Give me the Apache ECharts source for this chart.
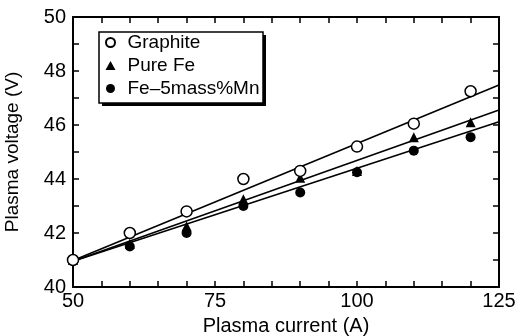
<!DOCTYPE html>
<html>
<head>
<meta charset="utf-8">
<script src="https://cdn.jsdelivr.net/npm/echarts@6/dist/echarts.min.js"></script>
<style>
  html, body { margin: 0; padding: 0; background: #fff; }
  #chart { width: 516px; height: 336px; }
</style>
</head>
<body>
<div id="chart"></div>
<script>
// Measured plasma voltage (V) against plasma current (A)
const graphite = [[50, 41.0], [60, 42.0], [70, 42.8], [80, 44.0], [90, 44.3], [100, 45.2], [110, 46.05], [120, 47.25]];
const pureFe   = [[50, 41.0], [60, 41.6], [70, 42.25], [80, 43.25], [90, 44.05], [100, 44.3], [110, 45.55], [120, 46.1]];
const feMn     = [[60, 41.5], [70, 42.0], [80, 43.0], [90, 43.5], [100, 44.25], [110, 45.05], [120, 45.55]];

// Straight-line fits drawn across the full current range
const fitGraphite = [[50, 40.98], [125, 47.48]];
const fitPureFe   = [[50, 40.95], [125, 46.56]];
const fitFeMn     = [[50, 40.95], [125, 46.12]];

const names = ['Graphite', 'Pure Fe', 'Fe\u20135mass%Mn'];
const xTicks = [50, 75, 100, 125];
const yTicks = [40, 42, 44, 46, 48, 50];

const font = 'Liberation Sans, Arial, Helvetica, sans-serif';
const ink = '#000';

const chart = echarts.init(document.getElementById('chart'), null, { renderer: 'canvas' });

const axisCommon = {
  axisLine: { show: true, onZero: false, lineStyle: { color: ink, width: 2 } },
  axisTick: { show: true, inside: true, length: 6, lineStyle: { color: ink, width: 1.5 } },
  minorTick: { show: true, length: 6, lineStyle: { color: ink, width: 1.5 } },
  splitLine: { show: false }
};

function fitLine(data) {
  return {
    type: 'line', data: data, symbol: 'none', silent: true,
    lineStyle: { color: ink, width: 1.6 }, z: 1
  };
}

chart.setOption({
  animation: false,
  backgroundColor: '#fff',
  grid: { left: 73, right: 17, top: 17, bottom: 49, containLabel: false, outerBoundsMode: 'none' },
  // Legend frame with an offset drop shadow
  graphic: [
    { type: 'rect', z: 5, shape: { x: 102, y: 35, width: 164, height: 71 }, style: { fill: ink } },
    { type: 'rect', z: 6, shape: { x: 99, y: 32, width: 164, height: 71 },
      style: { fill: '#fff', stroke: ink, lineWidth: 1.5 } }
  ],
  legend: {
    orient: 'vertical',
    left: 105, top: 33,
    z: 10,
    data: names,
    itemWidth: 10, itemHeight: 9, itemGap: 4,
    padding: [0, 0, 0, 0],
    itemStyle: { opacity: 1 },
    textStyle: { fontFamily: font, fontSize: 19, color: ink, padding: [0, 0, 0, 7] }
  },
  xAxis: [
    Object.assign({}, axisCommon, {
      type: 'value', min: 50, max: 125, interval: 25, position: 'bottom',
      minorTick: Object.assign({}, axisCommon.minorTick, { splitNumber: 5 }),
      name: 'Plasma current (A)', nameLocation: 'middle', nameGap: 29,
      nameTextStyle: { fontFamily: font, fontSize: 20, color: ink },
      axisLabel: {
        fontFamily: font, fontSize: 20, color: ink, margin: 4,
        formatter: v => xTicks.includes(v) ? String(v) : ''
      }
    }),
    Object.assign({}, axisCommon, {
      type: 'value', min: 50, max: 125, interval: 25, position: 'top',
      minorTick: Object.assign({}, axisCommon.minorTick, { splitNumber: 5 }),
      axisLabel: { show: false }
    })
  ],
  yAxis: [
    Object.assign({}, axisCommon, {
      type: 'value', min: 40, max: 50, interval: 2, position: 'left',
      minorTick: Object.assign({}, axisCommon.minorTick, { splitNumber: 2 }),
      name: 'Plasma voltage (V)', nameLocation: 'middle', nameGap: 51,
      nameTextStyle: { fontFamily: font, fontSize: 19, color: ink },
      axisLabel: {
        fontFamily: font, fontSize: 20, color: ink, margin: 7,
        formatter: v => yTicks.includes(v) ? String(v) : ''
      }
    }),
    Object.assign({}, axisCommon, {
      type: 'value', min: 40, max: 50, interval: 2, position: 'right',
      minorTick: Object.assign({}, axisCommon.minorTick, { splitNumber: 2 }),
      axisLabel: { show: false }
    })
  ],
  series: [
    fitLine(fitGraphite),
    fitLine(fitPureFe),
    fitLine(fitFeMn),
    {
      name: names[1], type: 'scatter', data: pureFe,
      symbol: 'triangle', symbolSize: [10, 10],
      itemStyle: { color: ink, opacity: 1 }, z: 3
    },
    {
      name: names[2], type: 'scatter', data: feMn,
      symbol: 'circle', symbolSize: 10,
      itemStyle: { color: ink, opacity: 1 }, z: 3
    },
    {
      name: names[0], type: 'scatter', data: graphite,
      symbol: 'circle', symbolSize: 11,
      itemStyle: { color: '#fff', borderColor: ink, borderWidth: 1.5, opacity: 1 }, z: 4
    }
  ]
});
</script>
</body>
</html>
